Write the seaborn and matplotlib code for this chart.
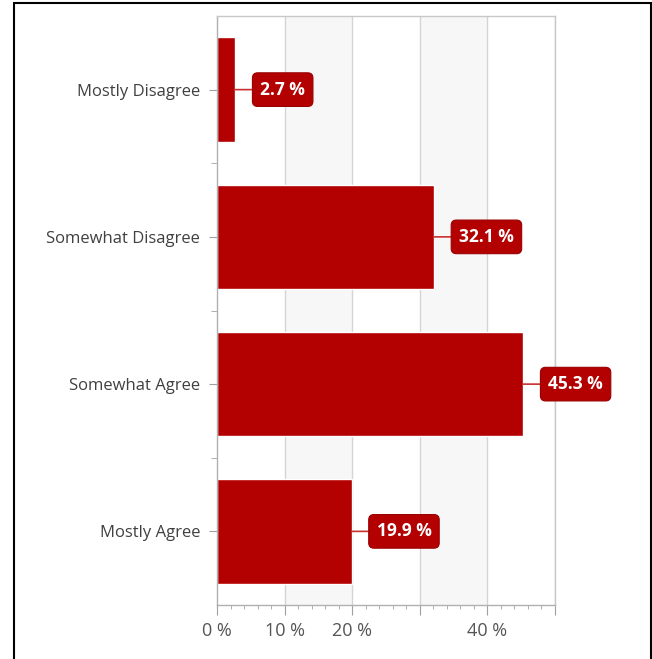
import numpy as np
import pandas as pd
import seaborn as sns
import matplotlib.pyplot as plt
from matplotlib.patches import Rectangle
from matplotlib.ticker import MultipleLocator

categories = ["Mostly Disagree", "Somewhat Disagree", "Somewhat Agree", "Mostly Agree"]
values = [2.7, 32.1, 45.3, 19.9]
tick_pos = [0, 10, 20, 30, 40, 50]
tick_lab = ["0 %", "10 %", "20 %", "", "40 %", ""]

df = pd.DataFrame({"answer": categories, "pct": values})

sns.set_style("white")
plt.rcParams['font.family'] = ['Open Sans', 'DejaVu Sans']

bar_col = "#B30000"
grid_col = "#D4D4D4"
text_col = "#404040"

fig = plt.figure(figsize=(6.52, 6.59), dpi=100)
ax = fig.add_axes([217/652, 1 - 605/659, (555 - 217)/652, (605 - 16)/659])

# alternating bands
for a, b in [(10, 20), (30, 40)]:
    ax.axvspan(a, b, color="#F7F7F7", zorder=0, lw=0)
for t in tick_pos[1:]:
    ax.axvline(t, color=grid_col, lw=1, zorder=0.5)

sns.barplot(data=df, y="answer", x="pct", orient="h", color=bar_col,
            saturation=1, width=0.71, ax=ax, zorder=2)

for i, v in enumerate(values):
    ax.annotate(f"{v} %", xy=(v, i), xytext=(25, 0), textcoords="offset pixels",
                ha="left", va="center", color="white", fontsize=12.5, fontweight="bold",
                bbox=dict(boxstyle="round,pad=0.45,rounding_size=0.3", fc=bar_col, ec="#9A0000", lw=0.8),
                arrowprops=dict(arrowstyle="-", color="#C83030", lw=1.2, shrinkA=0, shrinkB=0),
                zorder=3)

ax.set_xlim(0, 50)
ax.set_ylim(3.5, -0.5)
ax.set_xticks(tick_pos)
ax.set_xticklabels(tick_lab)
ax.xaxis.set_minor_locator(MultipleLocator(2))
ax.set_yticks([0.5, 1.5, 2.5], minor=True)
ax.set_xlabel("")
ax.set_ylabel("")

for s in ax.spines.values():
    s.set_color("#C8C8C8")
    s.set_linewidth(1)
ax.spines["left"].set_color("#B0B0B0")
ax.spines["bottom"].set_color("#B0B0B0")

ax.tick_params(axis="x", which="major", length=7, color="#A0A0A0", labelsize=13, labelcolor="#555555", pad=5, bottom=True)
ax.tick_params(axis="x", which="minor", length=3, color="#A0A0A0", bottom=True)
ax.tick_params(axis="y", which="major", length=6, color="#A0A0A0", labelsize=12, labelcolor=text_col, pad=6, left=True)
ax.tick_params(axis="y", which="minor", length=4, color="#A0A0A0", left=True)

# outer frame
fig.patches.append(Rectangle((14/652, -0.01), (651 - 14)/652, 1 - 3/659 + 0.01,
                             transform=fig.transFigure, fill=False, ec="black", lw=1.5))

fig.savefig("out.png", dpi=100)
